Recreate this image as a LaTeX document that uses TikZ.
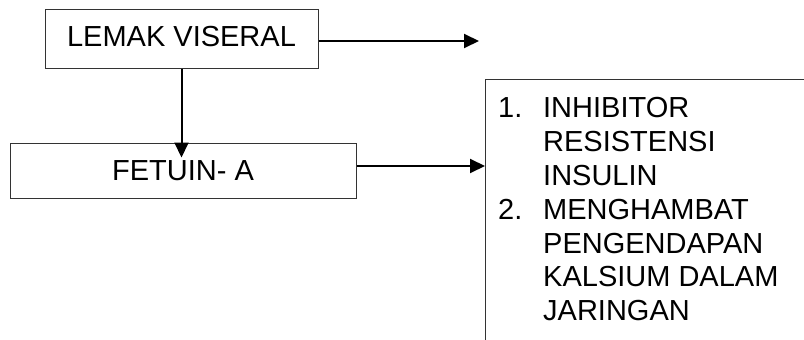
\documentclass[tikz,border=0pt]{standalone}
\usepackage{fontspec}
\setmainfont{Liberation Sans}
\usetikzlibrary{arrows.meta,calc}
\tikzset{
  txt/.style={font=\fontsize{29}{34}\selectfont},
  boxnode/.style={draw=black!80, line width=1pt, inner sep=0pt, txt},
  arr/.style={line width=2pt, -{Triangle[length=15pt,width=14pt]}}
}
\begin{document}
\begin{tikzpicture}[x=1pt,y=-1pt]
\useasboundingbox (0,0) rectangle (804,340);
\node[boxnode, minimum width=273pt, minimum height=59pt, text depth=5pt] (lemak) at (181.5,38.5) {LEMAK VISERAL};
\node[boxnode, minimum width=346pt, minimum height=55pt] (fetuin) at (183,170.5) {FETUIN- A};
\node[boxnode, anchor=north west, minimum width=400pt, minimum height=300pt] (effects) at (485,79) {};
\begin{scope}
\clip (480,70) rectangle (804,333.5);
\node[txt, anchor=base west, inner sep=0pt] (list) at (498,117) {%
\begin{tabular}[t]{@{}p{45pt}@{}l@{}}
1. & INHIBITOR\\
   & RESISTENSI\\
   & INSULIN\\
2. & MENGHAMBAT\\
   & PENGENDAPAN\\
   & KALSIUM DALAM\\
   & JARINGAN\\
   & LUNAK
\end{tabular}};
\end{scope}
\coordinate (lemakend) at (479,41);
\draw[arr] ($(lemak.east)+(0,2.5)$) -- (lemakend);
\draw[arr, shorten >=-15pt] (lemak.south) -- (lemak.south |- fetuin.north);
\draw[arr] ($(fetuin.east)+(0,-4.5)$) -- ($(fetuin.east -| effects.west)+(0,-4.5)$);
\end{tikzpicture}
\end{document}
